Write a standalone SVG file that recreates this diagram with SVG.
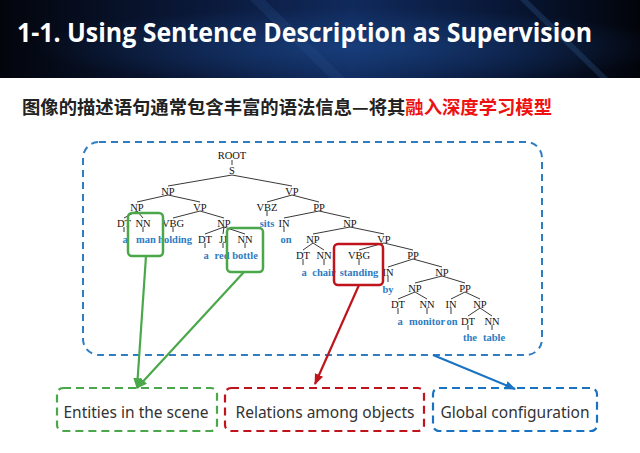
<svg xmlns="http://www.w3.org/2000/svg" width="640" height="453" viewBox="0 0 640 453">
<defs>
<linearGradient id="bg" x1="0" y1="0" x2="1" y2="0">
<stop offset="0" stop-color="#03050c"/>
<stop offset="0.3" stop-color="#0a1838"/>
<stop offset="0.55" stop-color="#102a5c"/>
<stop offset="0.8" stop-color="#081634"/>
<stop offset="1" stop-color="#02040a"/>
</linearGradient>
<radialGradient id="glow" cx="0.55" cy="0.6" r="0.5">
<stop offset="0" stop-color="#1d4a8f" stop-opacity="0.6"/>
<stop offset="1" stop-color="#1d4a8f" stop-opacity="0"/>
</radialGradient>
<marker id="ag" viewBox="0 0 10 10" refX="9" refY="5" markerWidth="5" markerHeight="5" orient="auto" markerUnits="strokeWidth"><path d="M0,1 L10,5 L0,9 z" fill="#4aa84a"/></marker>
<marker id="ar" viewBox="0 0 10 10" refX="9" refY="5" markerWidth="5" markerHeight="5" orient="auto" markerUnits="strokeWidth"><path d="M0,1 L10,5 L0,9 z" fill="#c0141c"/></marker>
<marker id="ab" viewBox="0 0 10 10" refX="9" refY="5" markerWidth="5" markerHeight="5" orient="auto" markerUnits="strokeWidth"><path d="M0,1 L10,5 L0,9 z" fill="#1a73c2"/></marker>
<style>
.title{font-family:"Open Sans","Noto Sans",sans-serif;font-weight:700;font-size:27px;fill:#ffffff}
.sub{font-family:"Noto Sans CJK SC",sans-serif;font-weight:700;font-size:18px;fill:#222222}
.t{font-family:"Liberation Serif",serif;font-size:10.5px;fill:#111111;text-anchor:middle}
.w{font-family:"Liberation Serif",serif;font-size:10.5px;font-weight:700;fill:#2e7cc2;text-anchor:middle}
.tr line{stroke:#222222;stroke-width:0.9}
.lbl{font-family:"Noto Sans","Open Sans",sans-serif;font-size:15.5px;fill:#333333;text-anchor:middle}
.gbox{fill:none;stroke:#4aa84a;stroke-width:2.2;stroke-dasharray:8 5}
.rbox{fill:none;stroke:#c0141c;stroke-width:2.2;stroke-dasharray:8 5}
.bbox{fill:none;stroke:#1a73c2;stroke-width:2.2;stroke-dasharray:8 5}
</style>
</defs>
<rect width="640" height="453" fill="#ffffff"/>
<g id="header">
<rect width="640" height="78" fill="url(#bg)"/>
<rect width="640" height="78" fill="url(#glow)"/>
<path d="M250,0 L330,78 L345,78 L265,0 z" fill="#2a4f8a" opacity="0.25"/>
<path d="M520,0 L600,78 L608,78 L528,0 z" fill="#3a6aa8" opacity="0.25"/>
<text class="title" x="17" y="42" textLength="575" lengthAdjust="spacingAndGlyphs">1-1. Using Sentence Description as Supervision</text>
</g>
<text class="sub" x="22" y="114" textLength="530" lengthAdjust="spacingAndGlyphs">图像的描述语句通常包含丰富的语法信息—将其<tspan fill="#ee1111">融入深度学习模型</tspan></text>
<g id="parse-tree-box">
<rect x="83" y="142" width="459" height="213" rx="16" fill="none" stroke="#2e7dc4" stroke-width="2" stroke-dasharray="7 5"/>
<g class="tr">
<line x1="232" y1="160" x2="232" y2="165"/>
<line x1="232" y1="175" x2="168" y2="186"/>
<line x1="232" y1="175" x2="292" y2="186"/>
<line x1="168" y1="195" x2="137" y2="202"/>
<line x1="168" y1="195" x2="200" y2="202"/>
<line x1="292" y1="195" x2="267" y2="202"/>
<line x1="292" y1="195" x2="319" y2="202"/>
<line x1="137" y1="211" x2="124" y2="218"/>
<line x1="137" y1="211" x2="143" y2="218"/>
<line x1="200" y1="211" x2="173" y2="218"/>
<line x1="200" y1="211" x2="224" y2="218"/>
<line x1="267" y1="211" x2="267" y2="216"/>
<line x1="319" y1="211" x2="284" y2="218"/>
<line x1="319" y1="211" x2="350" y2="218"/>
<line x1="124" y1="227" x2="124" y2="232"/>
<line x1="143" y1="227" x2="143" y2="232"/>
<line x1="173" y1="227" x2="173" y2="232"/>
<line x1="224" y1="227" x2="205" y2="234"/>
<line x1="224" y1="227" x2="223" y2="234"/>
<line x1="224" y1="227" x2="245" y2="234"/>
<line x1="284" y1="227" x2="284" y2="232"/>
<line x1="350" y1="227" x2="313" y2="234"/>
<line x1="350" y1="227" x2="384" y2="234"/>
<line x1="205" y1="243" x2="205" y2="248"/>
<line x1="223" y1="243" x2="223" y2="248"/>
<line x1="245" y1="243" x2="245" y2="248"/>
<line x1="313" y1="243" x2="303" y2="250"/>
<line x1="313" y1="243" x2="324" y2="250"/>
<line x1="384" y1="243" x2="359" y2="250"/>
<line x1="384" y1="243" x2="413" y2="250"/>
<line x1="303" y1="259" x2="303" y2="265"/>
<line x1="324" y1="259" x2="324" y2="265"/>
<line x1="359" y1="259" x2="359" y2="265"/>
<line x1="413" y1="259" x2="388" y2="267"/>
<line x1="413" y1="259" x2="442" y2="267"/>
<line x1="388" y1="276" x2="388" y2="282"/>
<line x1="442" y1="276" x2="415" y2="283"/>
<line x1="442" y1="276" x2="465" y2="283"/>
<line x1="415" y1="292" x2="398" y2="299"/>
<line x1="415" y1="292" x2="427" y2="299"/>
<line x1="465" y1="292" x2="451" y2="299"/>
<line x1="465" y1="292" x2="480" y2="299"/>
<line x1="398" y1="308" x2="398" y2="314"/>
<line x1="427" y1="308" x2="427" y2="314"/>
<line x1="451" y1="308" x2="451" y2="314"/>
<line x1="480" y1="308" x2="468" y2="316"/>
<line x1="480" y1="308" x2="492" y2="316"/>
<line x1="468" y1="325" x2="468" y2="330"/>
<line x1="492" y1="325" x2="492" y2="330"/>
</g>
<g id="tags">
<text class="t" x="232" y="159">ROOT</text>
<text class="t" x="232" y="174">S</text>
<text class="t" x="168" y="195">NP</text>
<text class="t" x="292" y="195">VP</text>
<text class="t" x="137" y="211">NP</text>
<text class="t" x="200" y="211">VP</text>
<text class="t" x="267" y="211">VBZ</text>
<text class="t" x="319" y="211">PP</text>
<text class="t" x="124" y="227">DT</text>
<text class="t" x="143" y="227">NN</text>
<text class="t" x="173" y="227">VBG</text>
<text class="t" x="224" y="227">NP</text>
<text class="t" x="284" y="227">IN</text>
<text class="t" x="350" y="227">NP</text>
<text class="t" x="205" y="243">DT</text>
<text class="t" x="223" y="243">JJ</text>
<text class="t" x="245" y="243">NN</text>
<text class="t" x="313" y="243">NP</text>
<text class="t" x="384" y="243">VP</text>
<text class="t" x="303" y="259">DT</text>
<text class="t" x="324" y="259">NN</text>
<text class="t" x="359" y="259">VBG</text>
<text class="t" x="413" y="259">PP</text>
<text class="t" x="388" y="276">IN</text>
<text class="t" x="442" y="276">NP</text>
<text class="t" x="415" y="292">NP</text>
<text class="t" x="465" y="292">PP</text>
<text class="t" x="398" y="308">DT</text>
<text class="t" x="427" y="308">NN</text>
<text class="t" x="451" y="308">IN</text>
<text class="t" x="480" y="308">NP</text>
<text class="t" x="468" y="325">DT</text>
<text class="t" x="492" y="325">NN</text>
</g>
<g id="words">
<text class="w" x="267" y="227">sits</text>
<text class="w" x="125" y="243">a</text>
<text class="w" x="146" y="243">man</text>
<text class="w" x="175" y="243">holding</text>
<text class="w" x="286" y="243">on</text>
<text class="w" x="206" y="259">a</text>
<text class="w" x="222" y="259">red</text>
<text class="w" x="245" y="259">bottle</text>
<text class="w" x="304" y="276">a</text>
<text class="w" x="324" y="276">chair</text>
<text class="w" x="359" y="276">standing</text>
<text class="w" x="388" y="293">by</text>
<text class="w" x="400" y="325">a</text>
<text class="w" x="427" y="325">monitor</text>
<text class="w" x="452" y="325">on</text>
<text class="w" x="470" y="341">the</text>
<text class="w" x="494" y="341">table</text>
</g>
</g>
<g id="highlight-man"><rect x="128" y="213" width="35" height="43" rx="4" fill="none" stroke="#4aa84a" stroke-width="2.5"/></g>
<g id="highlight-bottle"><rect x="227" y="228" width="36" height="44" rx="4" fill="none" stroke="#4aa84a" stroke-width="2.5"/></g>
<g id="highlight-standing"><rect x="334" y="244" width="49" height="41" rx="4" fill="none" stroke="#c0141c" stroke-width="2.5"/></g>
<g id="connectors">
<line x1="146" y1="256" x2="137" y2="388" stroke="#4aa84a" stroke-width="2.2" marker-end="url(#ag)"/>
<line x1="244" y1="272" x2="137" y2="388" stroke="#4aa84a" stroke-width="2.2" marker-end="url(#ag)"/>
<line x1="359" y1="285" x2="315" y2="384" stroke="#c0141c" stroke-width="2.2" marker-end="url(#ar)"/>
<line x1="433" y1="355" x2="515" y2="389" stroke="#1a73c2" stroke-width="2.2" marker-end="url(#ab)"/>
</g>
<g id="entities"><rect class="gbox" x="57" y="388" width="160" height="43" rx="6"/><text class="lbl" x="136" y="418">Entities in the scene</text></g>
<g id="relations"><rect class="rbox" x="225" y="388" width="199" height="43" rx="6"/><text class="lbl" x="325" y="418">Relations among objects</text></g>
<g id="global"><rect class="bbox" x="433" y="388" width="164" height="43" rx="6"/><text class="lbl" x="515" y="418">Global configuration</text></g>
</svg>
